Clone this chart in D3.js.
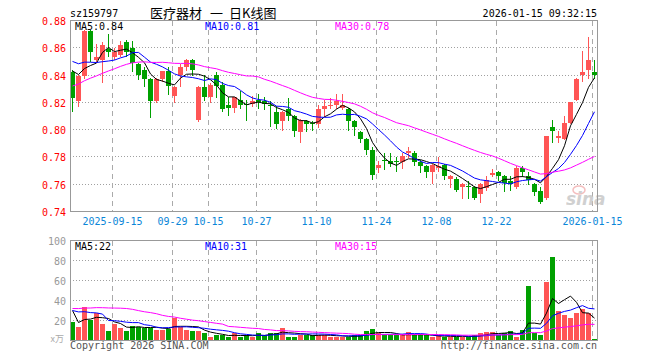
<!DOCTYPE html>
<html><head><meta charset="utf-8">
<script src="https://cdn.jsdelivr.net/npm/d3@7"></script>
<style>
body{margin:0;background:#fff}
svg{display:block}
text{font-family:"DejaVu Sans Mono",monospace;font-size:10px}
</style>
</head><body>
<svg id="chart" width="660" height="360"></svg>
<script>
// ---------- data ----------
const dates = ["2025-09-04","2025-09-05","2025-09-08","2025-09-09","2025-09-10","2025-09-11","2025-09-12","2025-09-15","2025-09-16","2025-09-17",
"2025-09-18","2025-09-19","2025-09-22","2025-09-23","2025-09-24","2025-09-25","2025-09-26","2025-09-29","2025-09-30","2025-10-09",
"2025-10-10","2025-10-13","2025-10-14","2025-10-15","2025-10-16","2025-10-17","2025-10-20","2025-10-21","2025-10-22","2025-10-23",
"2025-10-24","2025-10-27","2025-10-28","2025-10-29","2025-10-30","2025-10-31","2025-11-03","2025-11-04","2025-11-05","2025-11-06",
"2025-11-07","2025-11-10","2025-11-11","2025-11-12","2025-11-13","2025-11-14","2025-11-17","2025-11-18","2025-11-19","2025-11-20",
"2025-11-21","2025-11-24","2025-11-25","2025-11-26","2025-11-27","2025-11-28","2025-12-01","2025-12-02","2025-12-03","2025-12-04",
"2025-12-05","2025-12-08","2025-12-09","2025-12-10","2025-12-11","2025-12-12","2025-12-15","2025-12-16","2025-12-17","2025-12-18",
"2025-12-19","2025-12-22","2025-12-23","2025-12-24","2025-12-25","2025-12-26","2025-12-29","2025-12-30","2025-12-31","2026-01-05",
"2026-01-06","2026-01-07","2026-01-08","2026-01-09","2026-01-12","2026-01-13","2026-01-14","2026-01-15"];

const opens = [0.842,0.821,0.839,0.872,0.851,0.851,0.859,0.853,0.855,0.864,
0.860,0.848,0.844,0.837,0.821,0.837,0.843,0.825,0.840,0.846,
0.851,0.807,0.831,0.824,0.840,0.833,0.818,0.816,0.822,0.819,
0.819,0.822,0.821,0.818,0.813,0.806,0.815,0.810,0.798,0.806,
0.805,0.804,0.815,0.817,0.818,0.816,0.815,0.806,0.798,0.793,
0.785,0.772,0.778,0.777,0.777,0.776,0.783,0.783,0.776,0.773,
0.769,0.772,0.774,0.764,0.764,0.758,0.759,0.758,0.753,0.757,
0.767,0.769,0.766,0.762,0.758,0.772,0.766,0.760,0.755,0.750,
0.802,0.794,0.793,0.805,0.822,0.840,0.844,0.842];

const closes = [0.823,0.839,0.872,0.857,0.853,0.862,0.857,0.857,0.862,0.857,
0.849,0.840,0.837,0.821,0.837,0.843,0.832,0.831,0.846,0.851,
0.844,0.831,0.824,0.833,0.832,0.815,0.816,0.824,0.818,0.818,
0.821,0.820,0.819,0.817,0.804,0.813,0.810,0.799,0.807,0.804,
0.804,0.815,0.817,0.818,0.821,0.818,0.806,0.802,0.793,0.785,
0.767,0.774,0.777,0.775,0.776,0.781,0.784,0.776,0.773,0.769,
0.774,0.773,0.766,0.766,0.756,0.760,0.758,0.750,0.760,0.763,
0.768,0.766,0.761,0.760,0.772,0.769,0.763,0.754,0.747,0.795,
0.799,0.795,0.805,0.820,0.837,0.842,0.851,0.840];

const highs = [0.844,0.840,0.873,0.873,0.863,0.864,0.870,0.860,0.865,0.866,
0.865,0.849,0.846,0.838,0.838,0.843,0.846,0.832,0.848,0.852,
0.852,0.832,0.840,0.834,0.842,0.835,0.824,0.824,0.828,0.822,
0.825,0.826,0.824,0.821,0.817,0.814,0.823,0.811,0.808,0.807,
0.806,0.818,0.822,0.823,0.826,0.826,0.816,0.807,0.799,0.794,
0.787,0.777,0.783,0.783,0.780,0.783,0.787,0.784,0.778,0.774,
0.775,0.780,0.775,0.767,0.765,0.761,0.762,0.759,0.761,0.766,
0.771,0.770,0.767,0.766,0.773,0.773,0.769,0.761,0.758,0.795,
0.807,0.799,0.810,0.820,0.838,0.858,0.868,0.851];

const lows = [0.814,0.817,0.838,0.850,0.850,0.835,0.854,0.852,0.854,0.854,
0.843,0.837,0.832,0.809,0.820,0.836,0.826,0.820,0.832,0.844,
0.840,0.806,0.822,0.820,0.824,0.814,0.811,0.813,0.816,0.807,
0.817,0.816,0.815,0.803,0.801,0.800,0.807,0.795,0.791,0.799,
0.800,0.802,0.810,0.816,0.816,0.815,0.800,0.796,0.791,0.782,
0.764,0.769,0.771,0.773,0.770,0.772,0.780,0.774,0.769,0.765,
0.761,0.770,0.764,0.758,0.755,0.750,0.750,0.749,0.747,0.756,
0.766,0.763,0.755,0.756,0.757,0.766,0.760,0.752,0.746,0.749,
0.791,0.791,0.793,0.805,0.822,0.836,0.838,0.838];

// volume, 万手
const volumes = [19,14,34,21,28,17,10,17,13,10,
15,14,13,13,11,11,12,23,14,11,
10,10,7,4,5,5,4,8,3,5,
4,7,6,8,8,13,4,4,5,6,
5,6,5,4,4,4,4,5,5,10,
12,8,5,5,5,5,9,5,5,5,
3,5,4,4,4,4,4,5,7,9,
9,5,7,10,4,11,55,7,5,59,
84,30,26,23,28,32,28,1];

// sessions before the window (estimated from where the MA lines start at the left edge)
const priorCloses = [0.796,0.799,0.801,0.803,0.805,0.806,0.808,0.810,0.812,0.815,
0.825,0.830,0.834,0.838,0.840,0.842,0.844,0.848,0.850,0.854,
0.856,0.860,0.858,0.855,0.856,0.852,0.850,0.846,0.844];
const priorVolumes = [16,18,20,17,19,18,20,17,19,
40,52,48,38,45,60,44,42,50,39,38,
28,32,30,31,29,74,19,19,19];

const priceTicks = [0.74,0.76,0.78,0.80,0.82,0.84,0.86,0.88];
const volTicks = [20,40,60,80,100];
const tickDates = ["2025-09-15","2025-09-29","2025-10-15","2025-10-27","2025-11-10","2025-11-24","2025-12-08","2025-12-22","2026-01-15"];
const tickLabels = ["2025-09-15","09-29","10-15","10-27","11-10","11-24","12-08","12-22","2026-01-15"];
const maPeriods = [5,10,30];
const maPriceLabels = ["MA5:0.84","MA10:0.81","MA30:0.78"];
const maVolLabels = ["MA5:22","MA10:31","MA30:15"];
const code = "sz159797";
const titleParts = ["医疗器材","一","日K线图"];
const stamp = "2026-01-15 09:32:15";

// ---------- drawing ----------
const RED = "#ff5555", GREEN = "#00a000";
const maColors = ["#000000","#0000ff","#ff00ff"];
const L = 70, R = 597;
const mainTop = 20.5, mainBot = 211.5, volTop = 240.5, volBot = 340.5;
const N = dates.length;

const svg = d3.select("#chart");
const x = d3.scaleBand().domain(dates).range([L, R]).paddingInner(1/6).paddingOuter(0);
const bw = x.bandwidth();
const y = d3.scaleLinear().domain([0.74, 0.88]).range([mainBot, mainTop]);
const yv = d3.scaleLinear().domain([0, 100]).range([volBot, volTop]);

function movingAvg(prior, vals, n) {
  const all = prior.concat(vals), off = prior.length;
  return vals.map((_, i) => {
    const s = all.slice(off + i - n + 1, off + i + 1);
    return d3.mean(s);
  });
}

const grid = svg.append("g").attr("shape-rendering", "crispEdges");
// horizontal dotted grid
grid.selectAll("line.hp").data(priceTicks.slice(1, -1)).join("line")
  .attr("x1", L).attr("x2", R).attr("y1", d => Math.floor(y(d)) + 0.5).attr("y2", d => Math.floor(y(d)) + 0.5)
  .attr("stroke", "#a0a0a0").attr("stroke-dasharray", "1,2");
grid.selectAll("line.hv").data(volTicks.slice(0, -1)).join("line")
  .attr("x1", L).attr("x2", R).attr("y1", d => Math.floor(yv(d)) + 0.5).attr("y2", d => Math.floor(yv(d)) + 0.5)
  .attr("stroke", "#a0a0a0").attr("stroke-dasharray", "1,2");
// vertical dashed grid
[[mainTop, mainBot], [volTop, volBot]].forEach(([t, b]) => {
  grid.append("g").selectAll("line").data(tickDates).join("line")
    .attr("x1", d => x(d) + 0.5).attr("x2", d => x(d) + 0.5).attr("y1", t).attr("y2", b)
    .attr("stroke", "#aaaaaa").attr("stroke-dasharray", "5,4");
});

// watermark
const wm = svg.append("g").attr("opacity", 0.9);
wm.append("ellipse").attr("cx", 579).attr("cy", 190).attr("rx", 6).attr("ry", 4)
  .attr("fill", "none").attr("stroke", "#f4b8b8").attr("stroke-width", 1.5);
wm.append("text").attr("x", 566).attr("y", 205).attr("fill", "#cccccc")
  .style("font-family", "DejaVu Sans").style("font-size", "17px").style("font-weight", "bold").style("font-style", "italic")
  .text("sina");

// candles
const up = i => closes[i] >= opens[i];
const cg = svg.append("g").attr("shape-rendering", "crispEdges");
cg.selectAll("line").data(d3.range(N)).join("line")
  .attr("x1", i => x(dates[i]) + 2.5).attr("x2", i => x(dates[i]) + 2.5)
  .attr("y1", i => Math.round(y(highs[i]))).attr("y2", i => Math.round(y(lows[i])) + 1)
  .attr("stroke", i => up(i) ? RED : GREEN);
cg.selectAll("rect").data(d3.range(N)).join("rect")
  .attr("x", i => x(dates[i])).attr("width", bw)
  .attr("y", i => Math.round(y(Math.max(opens[i], closes[i]))))
  .attr("height", i => Math.max(1, Math.round(y(Math.min(opens[i], closes[i]))) - Math.round(y(Math.max(opens[i], closes[i])))))
  .attr("fill", i => up(i) ? RED : GREEN);

// volume bars
svg.append("g").attr("shape-rendering", "crispEdges").selectAll("rect").data(d3.range(N)).join("rect")
  .attr("x", i => x(dates[i])).attr("width", bw)
  .attr("y", i => Math.round(yv(volumes[i])))
  .attr("height", i => Math.max(1, Math.round(yv(0)) - Math.round(yv(volumes[i]))))
  .attr("fill", i => up(i) ? RED : GREEN);

// MA lines
maPeriods.forEach((n, k) => {
  const mp = movingAvg(priorCloses, closes, n);
  const mv = movingAvg(priorVolumes, volumes, n);
  svg.append("path").datum(d3.range(N))
    .attr("d", d3.line().x(i => x(dates[i]) + 2.5).y(i => y(mp[i])))
    .attr("fill", "none").attr("stroke", maColors[k]).attr("stroke-width", 1);
  svg.append("path").datum(d3.range(N))
    .attr("d", d3.line().x(i => x(dates[i]) + 2.5).y(i => yv(mv[i])))
    .attr("fill", "none").attr("stroke", maColors[k]).attr("stroke-width", 1);
});

// frames
const fr = svg.append("g").attr("shape-rendering", "crispEdges").attr("fill", "none").attr("stroke", "#999999");
fr.append("rect").attr("x", L + 0.5).attr("y", mainTop).attr("width", R - L).attr("height", mainBot - mainTop);
fr.append("rect").attr("x", L + 0.5).attr("y", volTop).attr("width", R - L).attr("height", volBot - volTop);

// axes labels
const yAxis = d3.axisLeft(y).tickValues(priceTicks).tickFormat(d3.format(".2f")).tickSize(0).tickPadding(4);
const ya = svg.append("g").attr("transform", `translate(${L},0)`).call(yAxis);
ya.select(".domain").remove();
ya.selectAll("text").attr("fill", "#ff0000").attr("dy", "0.4em").style("font-family", "DejaVu Sans Mono").style("font-size", "10px");

const vAxis = d3.axisLeft(yv).tickValues(volTicks).tickSize(0).tickPadding(4);
const va = svg.append("g").attr("transform", `translate(${L},0)`).call(vAxis);
va.select(".domain").remove();
va.selectAll("text").attr("fill", "#999999").attr("dy", "0.4em").style("font-family", "DejaVu Sans Mono").style("font-size", "10px");

svg.append("g").selectAll("text").data(tickDates).join("text")
  .attr("x", d => x(d) + 0.5).attr("y", 225).attr("text-anchor", "middle")
  .attr("fill", "#0a86d8").text((d, i) => tickLabels[i]);

// header texts
svg.append("text").attr("x", L).attr("y", 17).attr("fill", "#000").text(code);
const tx = [150, 210, 229];
titleParts.forEach((t, i) => svg.append("text").attr("x", tx[i]).attr("y", 18)
  .style("font-family", "Noto Sans CJK SC").style("font-size", "13px").attr("fill", "#000").text(t));
svg.append("text").attr("x", R).attr("y", 17).attr("text-anchor", "end").attr("fill", "#000").text(stamp);

const lx = [75, 205, 335];
maPriceLabels.forEach((t, k) => svg.append("text").attr("x", lx[k]).attr("y", 30).attr("fill", maColors[k]).text(t));
maVolLabels.forEach((t, k) => svg.append("text").attr("x", lx[k]).attr("y", 250).attr("fill", maColors[k]).text(t));

svg.append("text").attr("x", 64).attr("y", 342).attr("text-anchor", "end").attr("fill", "#aaaaaa")
  .style("font-family", "Noto Sans CJK SC").style("font-size", "9px").text("x万");
svg.append("text").attr("x", L).attr("y", 349).attr("fill", "#555555").text("Copyright 2026 SINA.COM");
svg.append("text").attr("x", R).attr("y", 349).attr("text-anchor", "end").attr("fill", "#555555").text("http://finance.sina.com.cn");
</script>
</body></html>
